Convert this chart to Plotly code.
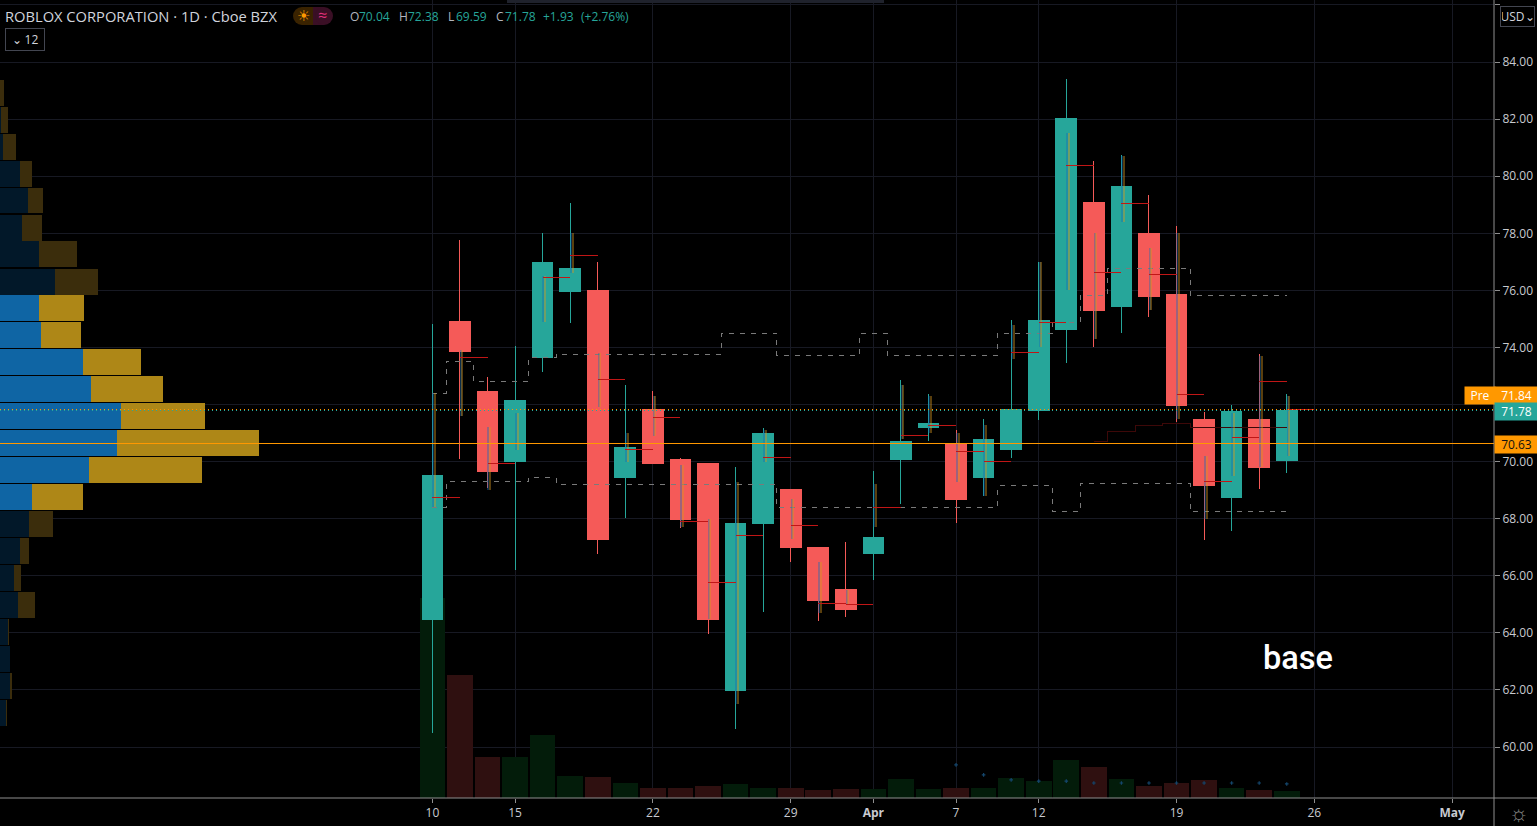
import plotly.graph_objects as go

# ---------- candle data ----------
tick_idx = [0, 3, 8, 13, 16, 19, 22, 27, 32, 37]
tick_txt = ["10", "15", "22", "29", "<b>Apr</b>", "7", "12", "19", "26", "<b>May</b>"]
bar_idx = list(range(32))
opens = [64.46,74.92,72.47,69.99,73.66,75.97,76.00,69.43,71.81,70.09,69.95,61.97,67.85,69.01,66.98,65.51,
         66.77,70.09,71.18,70.65,69.43,70.44,71.78,74.64,79.08,75.45,78.00,75.86,71.49,68.76,71.49,70.04]
highs = [74.82,77.75,72.96,74.05,78.00,79.08,76.98,72.68,72.47,70.12,69.97,69.81,71.18,69.03,67.00,67.19,
         69.67,72.86,72.37,71.10,71.50,74.95,76.98,83.39,80.55,80.73,79.33,78.24,71.74,71.98,73.77,72.38]
lows = [60.50,70.09,69.08,66.21,73.14,74.85,66.77,68.03,69.93,67.68,63.97,60.64,64.74,66.49,64.42,64.56,
        65.86,68.52,70.72,67.85,68.80,70.13,71.46,73.45,74.01,74.50,75.06,71.39,67.26,67.57,69.04,69.59]
closes = [69.50,73.87,69.67,72.16,76.98,76.77,67.26,70.48,69.95,67.96,64.46,67.85,71.00,66.98,65.12,64.81,
          67.33,70.72,71.32,68.69,70.76,71.81,74.95,82.02,75.31,79.64,75.79,71.95,69.18,71.74,69.81,71.78]
volumes = [64.0,39.4,13.1,13.1,20.2,7.0,6.7,4.8,3.2,3.2,3.8,4.5,3.2,3.2,2.6,2.9,
           2.9,6.1,2.9,3.2,3.2,6.4,5.4,12.2,9.9,6.1,3.8,4.8,5.8,3.2,2.6,2.2]
# small dark-blue markers in the volume pane
dot_idx = [19,20,21,22,23,24,25,26,27,28,29,30,31]
dot_vals = [10.6,7.4,5.8,5.4,5.4,4.8,4.8,4.8,4.8,4.8,4.8,4.8,4.5]
# per-bar point of control
poc = [68.76,73.66,69.92,70.62,76.46,77.23,72.89,70.44,71.53,67.92,65.75,67.43,70.16,67.75,65.02,64.98,
       68.38,70.90,71.28,70.37,70.02,73.84,74.89,80.38,76.63,79.05,76.56,72.37,69.29,70.83,72.82,71.81]
# per-bar mini volume profile extent
mini_hi = [72.4,73.9,71.2,71.7,76.5,78.0,73.8,71.0,72.3,69.9,68.0,69.3,71.1,68.7,66.5,65.5,
           69.2,72.7,72.3,71.0,71.3,74.8,77.0,81.5,78.0,80.7,77.5,78.0,70.2,71.7,73.7,72.3]
mini_lo = [68.4,71.6,69.0,70.4,74.9,76.6,71.9,70.0,70.9,67.7,64.5,61.5,70.0,67.3,64.7,65.0,
           67.7,70.8,71.0,69.3,68.8,73.6,74.0,76.0,74.3,78.4,75.3,71.5,68.0,69.5,69.8,70.2]
# dashed value-area steps
upper_x = [0,0.5,1.5,3.5,4.5,10.5,12.5,15.5,16.5,20.5,22.5,23.5,24.5,27.5,31]
upper_y = [72.40,73.52,72.82,73.66,73.77,74.50,73.73,74.50,73.73,74.50,74.89,75.83,76.78,75.83,75.83]
lower_x = [0,0.5,3.5,4.5,12.5,20.5,22.5,23.5,27.5,31]
lower_y = [68.38,69.32,69.43,69.20,68.38,69.15,68.25,69.22,68.25,68.25]
red_x = [24,24.5,25.5,26.5,27.5,28.5,31]
red_y = [70.72,71.07,71.28,71.32,71.21,71.18,71.18]

# ---------- left volume profile ----------
vp_price = [82.93,81.98,81.04,80.09,79.15,78.20,77.26,76.31,75.37,74.43,73.48,72.54,
            71.59,70.65,69.70,68.76,67.81,66.87,65.92,64.98,64.03,63.09,62.14,61.20]
vp_up = [0,1,3,20,28,22,39,55,39,41,83,91,121,117,89,32,29,20,14,18,8,10,10,6]
vp_down = [4,7,13,12,15,20,38,43,45,40,58,72,84,142,113,51,24,9,7,17,1,0,2,1]
vp_bright = [0,0,0,0,0,0,0,0,1,1,1,1,1,1,1,1,0,0,0,0,0,0,0,0]

# ---------- price levels / text ----------
pre_price = 71.84
last_price = 71.78
poc_price = 70.63
y_ticks = [60,62,64,66,68,70,72,74,76,78,80,82,84,86]
y_labels = ["60.00","62.00","64.00","66.00","68.00","70.00","","74.00","76.00","78.00","80.00","82.00","84.00","86.00"]
ohlc_text = ["O", "70.04", "H", "72.38", "L", "69.59", "C", "71.78"]
change_text = ["+1.93", "(+2.76%)"]

TEAL = "#26a69a"; RED = "#f55a58"; ORANGE = "#ff9800"; GRID = "#171923"; AXIS = "#8f8f8f"; TXT = "#c8cad0"
FONT = "Open Sans"
PW, PH = 1494.0, 798.0
px = lambda v: v / PW
py = lambda v: 1 - v / PH

fig = go.Figure()

# volume (bottom layer)
fig.add_trace(go.Bar(x=bar_idx, y=volumes, xaxis="x", yaxis="y", width=0.93,
                     marker=dict(color=["#031c0a" if c >= o else "#2f1010" for o, c in zip(opens, closes)], line_width=0),
                     hoverinfo="skip", showlegend=False))
fig.add_trace(go.Scatter(x=dot_idx, y=dot_vals, mode="markers", xaxis="x", yaxis="y",
                         marker=dict(symbol="cross", size=3, color="#14466c", line_width=0),
                         hoverinfo="skip", showlegend=False))

# dark red step + dashed value-area lines
fig.add_trace(go.Scatter(x=red_x, y=red_y, mode="lines", xaxis="x", yaxis="y2", line=dict(color="#3d0808", width=1, shape="hv"),
                         hoverinfo="skip", showlegend=False))
for sx, sy in ((upper_x, upper_y), (lower_x, lower_y)):
    fig.add_trace(go.Scatter(x=sx, y=sy, mode="lines", xaxis="x", yaxis="y2",
                             line=dict(color="#7a7a7a", width=1, shape="hv", dash="5px,6px"),
                             hoverinfo="skip", showlegend=False))

# candles
fig.add_trace(go.Candlestick(x=bar_idx, open=opens, high=highs, low=lows, close=closes, xaxis="x", yaxis="y2",
                             increasing=dict(line=dict(color=TEAL, width=1), fillcolor=TEAL),
                             decreasing=dict(line=dict(color=RED, width=1), fillcolor=RED),
                             whiskerwidth=0, hoverinfo="skip", showlegend=False))

# mini profiles: blue buy side next to the wick, gold sell side beside it
mx, my, bx, by = [], [], [], []
for i, hi, lo in zip(bar_idx, mini_hi, mini_lo):
    bx += [i + 0.03, i + 0.03, None]; by += [lo, hi, None]
    mx += [i + 0.09, i + 0.09, None]; my += [lo, hi, None]
fig.add_trace(go.Scatter(x=bx, y=by, mode="lines", xaxis="x", yaxis="y2",
                         line=dict(color="rgba(25,110,180,0.40)", width=2), hoverinfo="skip", showlegend=False))
fig.add_trace(go.Scatter(x=mx, y=my, mode="lines", xaxis="x", yaxis="y2",
                         line=dict(color="rgba(215,150,30,0.42)", width=2), hoverinfo="skip", showlegend=False))
# POC dashes
sx, sy = [], []
for i, p in zip(bar_idx, poc):
    sx += [i, i + 1, None]; sy += [p, p, None]
fig.add_trace(go.Scatter(x=sx, y=sy, mode="lines", xaxis="x", yaxis="y2",
                         line=dict(color="#c01616", width=1), hoverinfo="skip", showlegend=False))

# left profile
fig.add_trace(go.Bar(y=vp_price, x=vp_up, orientation="h", xaxis="x2", yaxis="y2", width=0.91,
                     marker=dict(color=["#0f65a4" if b else "#021829" for b in vp_bright], line_width=0),
                     hoverinfo="skip", showlegend=False))
fig.add_trace(go.Bar(y=vp_price, x=vp_down, orientation="h", xaxis="x2", yaxis="y2", width=0.91,
                     marker=dict(color=["#ae8717" if b else "#3b2d0c" for b in vp_bright], line_width=0),
                     hoverinfo="skip", showlegend=False))

# horizontal level lines (same subplot as the profile so they sit above it)
fig.add_trace(go.Scatter(x=[0, PW], y=[poc_price, poc_price], mode="lines", xaxis="x2", yaxis="y2",
                         line=dict(color=ORANGE, width=1), hoverinfo="skip", showlegend=False))
fig.add_trace(go.Scatter(x=[0, PW], y=[pre_price, pre_price], mode="lines", xaxis="x2", yaxis="y2",
                         line=dict(color=ORANGE, width=1, dash="1px,3px"), hoverinfo="skip", showlegend=False))
fig.add_trace(go.Scatter(x=[0, PW], y=[last_price, last_price], mode="lines", xaxis="x2", yaxis="y2",
                         line=dict(color=TEAL, width=1, dash="1px,3px"), hoverinfo="skip", showlegend=False))

shapes = [
    dict(type="line", xref="paper", yref="paper", x0=0, x1=1537/PW, y0=0, y1=0, line=dict(color=AXIS, width=1)),
    dict(type="line", xref="paper", yref="paper", x0=1, x1=1, y0=py(826), y1=1, line=dict(color=AXIS, width=1)),
    dict(type="rect", xref="paper", yref="paper", x0=px(507), x1=px(884), y0=py(3), y1=1, fillcolor="#1f222c", line_width=0),
    dict(type="rect", xref="paper", yref="paper", x0=px(302), x1=px(313), y0=py(25), y1=py(7), fillcolor="#3a2300", line_width=0),
    dict(type="rect", xref="paper", yref="paper", x0=px(313), x1=px(324), y0=py(25), y1=py(7), fillcolor="#3a0f25", line_width=0),
    dict(type="circle", xref="paper", yref="paper", x0=px(293), x1=px(311), y0=py(25), y1=py(7), fillcolor="#3a2300", line_width=0),
    dict(type="circle", xref="paper", yref="paper", x0=px(315), x1=px(333), y0=py(25), y1=py(7), fillcolor="#3a0f25", line_width=0),
]

def note(text, x, y, size=12, color=TXT, xanchor="left", **kw):
    return dict(text=text, xref="paper", yref="paper", x=px(x), y=py(y), xanchor=xanchor, yanchor="middle",
                showarrow=False, font=dict(family=FONT, size=size, color=color), **kw)

def price_tag(text, price, bg, color, x=PW, w=43):
    return dict(text=text, xref="paper", yref="paper", x=px(x), y=py(price), xanchor="left", yanchor="middle", width=w, height=17,
                align="center", bgcolor=bg, showarrow=False, borderpad=0, font=dict(family=FONT, size=12, color=color))

ohlc_x = [348, 357, 397, 406, 446, 454, 494, 503]
annotations = [
    note("ROBLOX CORPORATION · 1D · Cboe BZX", 3, 16, size=14.7, color="#d1d4dc"),
    note("☀", 303, 15, size=15, color=ORANGE, xanchor="center"),
    note("≈", 322, 15, size=16, color="#e0307a", xanchor="center"),
    note("⌄ 12", 5, 39, size=12, color="#d1d4dc", bordercolor="#434651", borderwidth=1, borderpad=2, width=34, align="center"),
    note("USD⌄", 1500, 16, size=12, color="#d1d4dc", bordercolor="#434651", borderwidth=1, borderpad=1, bgcolor="#000000", width=31, align="center"),
    price_tag("Pre", 395, ORANGE, "#ffffff", x=1464, w=30),
    price_tag("71.84", 395, ORANGE, "#ffffff"),
    price_tag("71.78", 411.5, TEAL, "#ffffff"),
    price_tag("70.63", 444.5, ORANGE, "#111111"),
    note("☼", 1519, 812, size=22, color="#8a8a8a", xanchor="center"),
    dict(text="base", x=31.42, y=63.12, xref="x", yref="y2", showarrow=False,
         font=dict(family="Roboto", size=32.5, color="#ffffff", weight=500)),
]
for k, (t, xp) in enumerate(zip(ohlc_text, ohlc_x)):
    annotations.append(note(t, xp, 17, size=12, color="#b2b5be" if k % 2 == 0 else TEAL))
for t, xp in zip(change_text, [541, 579]):
    annotations.append(note(t, xp, 17, size=12, color=TEAL))

fig.update_layout(
    width=1537, height=826, autosize=False,
    paper_bgcolor="#000000", plot_bgcolor="#000000",
    margin=dict(l=0, r=43, t=0, b=28, pad=0),
    barmode="stack", boxgap=0.25, boxgroupgap=0, bargap=0, showlegend=False, hovermode=False,
    xaxis=dict(range=[-15.69, 38.52], tickmode="array", tickvals=tick_idx, ticktext=tick_txt, showgrid=True, gridcolor=GRID, gridwidth=1,
               zeroline=False, showline=False, ticks="outside", ticklen=4, tickcolor=AXIS, tickwidth=1,
               tickfont=dict(family=FONT, size=12, color=TXT), rangeslider=dict(visible=False)),
    xaxis2=dict(range=[0, PW], overlaying="x", visible=False, showgrid=False, zeroline=False),
    yaxis=dict(range=[0, 255.4], visible=False, showgrid=False, zeroline=False),
    yaxis2=dict(range=[58.215, 86.175], overlaying="y", side="right", tickmode="array", tickvals=y_ticks,
                ticktext=y_labels, showgrid=True, gridcolor=GRID, gridwidth=1, zeroline=False, showline=False,
                ticks="outside", ticklen=5, tickcolor=AXIS, tickwidth=1, tickfont=dict(family=FONT, size=12, color=TXT)),
    shapes=shapes, annotations=annotations,
)

fig.write_html("out.html", config=dict(displayModeBar=False, responsive=False),
               post_script="document.body.style.margin='0';document.documentElement.style.background='#000';document.body.style.overflow='hidden';"
                           "document.querySelectorAll('.scatterlayer .js-line,.boxlayer path').forEach(function(e){e.style.shapeRendering='crispEdges';});")
